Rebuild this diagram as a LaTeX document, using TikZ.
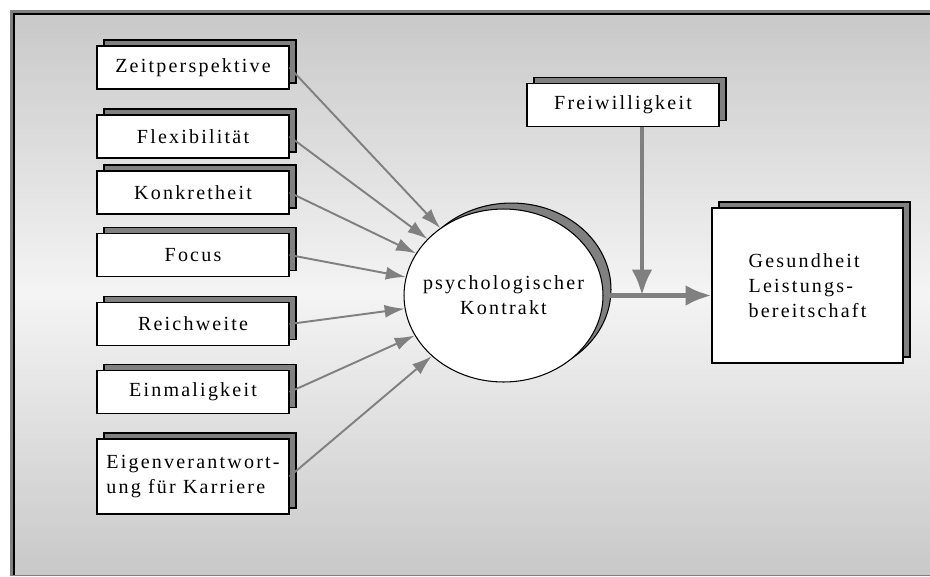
\documentclass[tikz,border=0pt]{standalone}
\usepackage{fontspec}
\setmainfont[LetterSpace=11]{Liberation Serif}
\usetikzlibrary{shapes.geometric,shadows,arrows.meta}
\definecolor{arrowgray}{HTML}{808080}
\definecolor{bgedge}{HTML}{C9C9C9}
\definecolor{bgmid}{HTML}{F4F4F4}
\begin{document}
\begin{tikzpicture}
	[x=0.02cm,y=-0.02cm,
	every node/.style={font=\fontsize{11.4}{14.2}\selectfont},
	box/.style={draw,fill=white,line width=0.6pt,inner sep=0pt,
		minimum width=3.84cm,minimum height=0.86cm,
		general shadow={draw=black,fill=arrowgray,line width=0.6pt,
			shadow xshift=0.14cm,shadow yshift=0.12cm}},
	thinarrow/.style={color=arrowgray,line width=1.1pt,-{Latex[length=0.4cm,width=0.26cm]}},
	thickarrow/.style={draw,color=arrowgray,line width=2.8pt,-{Latex[length=0.52cm,width=0.42cm]}}]
	\useasboundingbox (0,0) rectangle (930,576);
	% frame and background
	\fill[arrowgray] (10,10) rectangle (930,576);
	\foreach \i in {0,...,111}{
		\pgfmathsetmacro\p{100-abs(\i-55.5)/55.5*100}
		\fill[bgmid!\p!bgedge] (14,14+5*\i) rectangle (930,19.6+5*\i);
	}
	\fill[arrowgray] (14,575) rectangle (930,576);
	\draw[line width=0.6pt] (14,575) -- (14,14) -- (930,14);
	% factors
	\node[box] (zeit) at (193,67.5) {Zeitperspektive};
	\node[box] (flex) at (193,136.5) {Flexibilität};
	\node[box] (konk) at (193,192.5) {Konkretheit};
	\node[box] (focus) at (193,255) {Focus};
	\node[box] (reich) at (193,324) {Reichweite};
	\node[box] (einm) at (193,392) {Einmaligkeit};
	\node[box,minimum height=1.5cm,align=left] (eigen) at (193,476.5) {Eigenverantwort-\\ung für Karriere};
	\node[box] (frei) at (623,105) {Freiwilligkeit};
	\node[box,minimum width=3.82cm,minimum height=3.1cm,align=left] (ges) at (807.5,285.5) {Gesundheit\\Leistungs-\\bereitschaft};
	\node[ellipse,draw,fill=white,line width=0.6pt,inner sep=0pt,
		minimum width=3.98cm,minimum height=3.46cm,
		general shadow={draw=black,fill=arrowgray,line width=0.6pt,shadow xshift=0.16cm,shadow yshift=0.12cm}]
		(kon) at (503.5,295.5) {};
	\node[align=center] (kontext) at (kon.center) {psychologischer\\Kontrakt};
	\coordinate (join) at (642,295.5);
	\path[thinarrow]
	(zeit.east) edge (kon)
	(flex.east) edge (kon)
	(konk.east) edge (kon)
	(focus.east) edge (kon)
	(reich.east) edge (kon)
	(einm.east) edge (kon)
	(eigen.east) edge (kon);
	\draw[thickarrow] (kon.east) -- (kon.east -| ges.west);
	\draw[thickarrow] (frei.south -| join) -- (join);
\end{tikzpicture}
\end{document}
